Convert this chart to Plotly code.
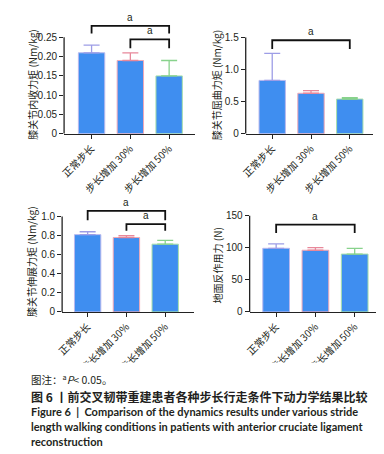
import plotly.graph_objects as go

W, H = 384, 454

categories = ["正常步长", "步长增加 30%", "步长增加 50%"]

# panel values (mean, SD)
p1_mean = [0.21, 0.19, 0.15]
p1_sd = [0.02, 0.02, 0.04]
p2_mean = [0.83, 0.63, 0.54]
p2_sd = [0.42, 0.04, 0.02]
p3_mean = [0.81, 0.78, 0.71]
p3_sd = [0.03, 0.02, 0.04]
p4_mean = [99, 96, 90]
p4_sd = [7, 4, 9]

p1_ticks = [0, 0.05, 0.10, 0.15, 0.20, 0.25]
p1_ticktext = ["0", "0.05", "0.10", "0.15", "0.20", "0.25"]
p2_ticks = [0, 0.5, 1.0, 1.5]
p2_ticktext = ["0", "0.5", "1.0", "1.5"]
p3_ticks = [0, 0.2, 0.4, 0.6, 0.8, 1.0]
p3_ticktext = ["0", "0.2", "0.4", "0.6", "0.8", "1.0"]
p4_ticks = [0, 50, 100, 150]
p4_ticktext = ["0", "50", "100", "150"]

titles = ["膝关节内收力矩 (Nm/kg)", "膝关节屈曲力矩 (Nm/kg)",
          "膝关节伸展力矩 (Nm/kg)", "地面反作用力 (N)"]

# significance brackets: (from, to, top, leg_bottom)
p1_brackets = [(0, 2, 0.280, 0.260), (1, 2, 0.245, 0.222)]
p2_brackets = [(0, 2, 1.455, 1.32)]
p3_brackets = [(0, 2, 1.06, 0.96), (1, 2, 0.92, 0.85)]
p4_brackets = [(0, 2, 136, 123)]

bar_color = "#3f8ef0"
err_colors = ["#9d9de6", "#e8889a", "#88d28c"]
edge_colors = ["#b8b8ee", "#f0a8b6", "#a8e0aa"]
text_color = "#231f20"

CJK = "Noto Sans CJK SC"
NUM = "Liberation Sans"


def px_x(p):
    return p / W


def px_y(p):
    return 1 - p / H


# layout geometry per panel (pixel)
panels = [
    dict(mean=p1_mean, sd=p1_sd, ticks=p1_ticks, ticktext=p1_ticktext, br=p1_brackets,
         xl=50, xr=183, c0=78, sp=39.5, zero=123, toptick=0.25, toppx=24, ymax=0.29,
         title=titles[0], tx=17, ty=73),
    dict(mean=p2_mean, sd=p2_sd, ticks=p2_ticks, ticktext=p2_ticktext, br=p2_brackets,
         xl=235, xr=365, c0=262, sp=39.5, zero=123, toptick=1.5, toppx=24, ymax=1.5,
         title=titles[1], tx=205, ty=73),
    dict(mean=p3_mean, sd=p3_sd, ticks=p3_ticks, ticktext=p3_ticktext, br=p3_brackets,
         xl=48, xr=182, c0=74, sp=39.5, zero=306, toptick=1.0, toppx=208, ymax=1.08,
         title=titles[2], tx=17, ty=255),
    dict(mean=p4_mean, sd=p4_sd, ticks=p4_ticks, ticktext=p4_ticktext, br=p4_brackets,
         xl=239, xr=372, c0=266, sp=40, zero=306, toptick=150, toppx=207, ymax=150,
         title=titles[3], tx=206, ty=258),
]

fig = go.Figure()
shapes = []
annotations = []

for k, P in enumerate(panels, start=1):
    xa = "x" if k == 1 else f"x{k}"
    ya = "y" if k == 1 else f"y{k}"
    xkey = "xaxis" if k == 1 else f"xaxis{k}"
    ykey = "yaxis" if k == 1 else f"yaxis{k}"
    for i, cat in enumerate(categories):
        fig.add_trace(go.Bar(
            x=[i], y=[P["mean"][i]], width=0.68,
            marker=dict(color=bar_color, line=dict(color=edge_colors[i], width=1)),
            error_y=dict(type="data", array=[P["sd"][i]], arrayminus=[0], symmetric=False,
                         color=err_colors[i], thickness=1.3, width=8),
            xaxis=xa, yaxis=ya, showlegend=False, hoverinfo="skip"))
    scale = (P["zero"] - P["toppx"]) / P["toptick"]
    top_px = P["zero"] - P["ymax"] * scale
    x0 = (P["xl"] - P["c0"]) / P["sp"]
    x1 = (P["xr"] - P["c0"]) / P["sp"]
    fig.update_layout(**{
        xkey: dict(domain=[px_x(P["xl"]), px_x(P["xr"])], range=[x0, x1], anchor=ya,
                   tickvals=[0, 1, 2], ticktext=categories, tickangle=-45,
                   showline=True, linecolor="#222", linewidth=1.3, ticks="outside",
                   ticklen=4, tickwidth=1.2, tickcolor="#222", showgrid=False, zeroline=False,
                   tickfont=dict(family=CJK, size=10, color=text_color)),
        ykey: dict(domain=[px_y(P["zero"]), px_y(top_px)], range=[0, P["ymax"]], anchor=xa,
                   tickvals=P["ticks"], ticktext=P["ticktext"], showline=False,
                   ticks="outside", ticklen=4, tickwidth=1.2, tickcolor="#222",
                   showgrid=False, zeroline=False,
                   tickfont=dict(family=NUM, size=10, color=text_color)),
    })
    # y-axis line up to top tick
    shapes.append(dict(type="line", xref=f"{xa} domain", yref=ya, x0=0, x1=0,
                       y0=0, y1=P["toptick"], line=dict(color="#222", width=1.3)))
    for (a, b, top, leg) in P["br"]:
        shapes.append(dict(type="path", xref=xa, yref=ya,
                           path=f"M {a},{leg} L {a},{top} L {b},{top} L {b},{leg}",
                           line=dict(color="#111", width=1.8)))
        annotations.append(dict(x=(a + b) / 2, y=top, xref=xa, yref=ya, text="a",
                                showarrow=False, yanchor="bottom", yshift=1,
                                font=dict(family=NUM, size=10, color=text_color)))
    annotations.append(dict(x=px_x(P["tx"]), y=px_y(P["ty"]), xref="paper", yref="paper",
                            text=P["title"], textangle=-90, showarrow=False,
                            xanchor="center", yanchor="middle",
                            font=dict(family=CJK, size=10, color=text_color)))

# white area covering the bottom of the rotated labels (caption block)
shapes.append(dict(type="rect", xref="paper", yref="paper", x0=0, x1=1,
                   y0=0, y1=px_y(358), fillcolor="white", line=dict(width=0), layer="above"))

caption = [
    ("图注：<sup>a</sup><i>P</i>< 0.05。", 375, CJK, 10.5),
    ("<b>图 6 丨前交叉韧带重建患者各种步长行走条件下动力学结果比较</b>", 393, CJK, 12),
    ("<b>Figure 6  |  Comparison of the dynamics results under various stride</b>", 408, "Lato", 11),
    ("<b>length walking conditions in patients with anterior cruciate ligament</b>", 424, "Lato", 11),
    ("<b>reconstruction</b>", 439, "Lato", 11),
]
for txt, ypx, fam, sz in caption:
    annotations.append(dict(x=px_x(14), y=px_y(ypx), xref="paper", yref="paper", text=txt,
                            showarrow=False, xanchor="left", yanchor="middle",
                            font=dict(family=fam, size=sz, color=text_color)))

fig.update_layout(width=W, height=H, margin=dict(l=0, r=0, t=0, b=0),
                  paper_bgcolor="white", plot_bgcolor="white", barmode="overlay",
                  shapes=shapes, annotations=annotations, showlegend=False)

fig.write_html("out.html")
